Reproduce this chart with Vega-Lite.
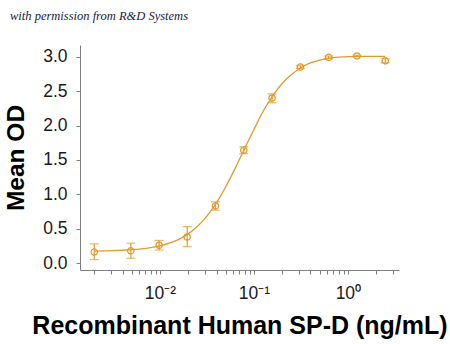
{
  "$schema": "https://vega.github.io/schema/vega-lite/v6.json",
  "autosize": "none",
  "width": 319,
  "height": 225,
  "padding": {"left": 80, "top": 45, "right": 51, "bottom": 74},
  "background": "white",
  "title": {
    "text": "with permission from R&D Systems",
    "anchor": "start",
    "frame": "group",
    "dx": -70,
    "offset": 23,
    "font": "Liberation Serif",
    "fontStyle": "italic",
    "fontWeight": "normal",
    "fontSize": 12.5,
    "color": "#1b1b3a"
  },
  "config": {
    "view": {"stroke": null},
    "axis": {
      "grid": false,
      "domainColor": "#808080",
      "tickColor": "#808080",
      "tickSize": 4,
      "labelColor": "#1a1a1a",
      "labelFont": "Liberation Sans",
      "labelFontSize": 16,
      "labelOverlap": false,
      "titleFont": "Liberation Sans",
      "titleFontWeight": "bold",
      "titleColor": "#000000"
    }
  },
  "datasets": {
    "points": [
      {"conc": 0.002, "od": 0.16, "lo": 0.05, "hi": 0.28},
      {"conc": 0.0049, "od": 0.18, "lo": 0.07, "hi": 0.29},
      {"conc": 0.0098, "od": 0.26, "lo": 0.19, "hi": 0.33},
      {"conc": 0.0195, "od": 0.38, "lo": 0.24, "hi": 0.53},
      {"conc": 0.039, "od": 0.83, "lo": 0.77, "hi": 0.89},
      {"conc": 0.078, "od": 1.64, "lo": 1.59, "hi": 1.69},
      {"conc": 0.156, "od": 2.40, "lo": 2.33, "hi": 2.46},
      {"conc": 0.3125, "od": 2.85, "lo": 2.83, "hi": 2.87},
      {"conc": 0.625, "od": 2.99, "lo": 2.97, "hi": 3.01},
      {"conc": 1.25, "od": 3.01, "lo": 3.0, "hi": 3.02},
      {"conc": 2.5, "od": 2.94, "lo": 2.91, "hi": 2.97}
    ],
    "curve": [
      {"conc": 0.002, "od": 0.175},
      {"conc": 0.00251, "od": 0.177},
      {"conc": 0.00316, "od": 0.181},
      {"conc": 0.00398, "od": 0.187},
      {"conc": 0.00501, "od": 0.195},
      {"conc": 0.00631, "od": 0.207},
      {"conc": 0.00794, "od": 0.225},
      {"conc": 0.01, "od": 0.251},
      {"conc": 0.01259, "od": 0.29},
      {"conc": 0.01585, "od": 0.346},
      {"conc": 0.01995, "od": 0.425},
      {"conc": 0.02512, "od": 0.535},
      {"conc": 0.03162, "od": 0.684},
      {"conc": 0.03981, "od": 0.875},
      {"conc": 0.05012, "od": 1.11},
      {"conc": 0.0631, "od": 1.377},
      {"conc": 0.07943, "od": 1.662},
      {"conc": 0.1, "od": 1.941},
      {"conc": 0.1259, "od": 2.21},
      {"conc": 0.1585, "od": 2.43},
      {"conc": 0.1995, "od": 2.61},
      {"conc": 0.2512, "od": 2.74},
      {"conc": 0.3162, "od": 2.84},
      {"conc": 0.3981, "od": 2.91},
      {"conc": 0.5012, "od": 2.95},
      {"conc": 0.631, "od": 2.98},
      {"conc": 0.7943, "od": 2.995},
      {"conc": 1.0, "od": 3.0},
      {"conc": 1.259, "od": 3.005},
      {"conc": 1.585, "od": 3.005},
      {"conc": 1.995, "od": 3.005},
      {"conc": 2.5, "od": 3.005}
    ]
  },
  "layer": [
    {
      "data": {"name": "curve"},
      "mark": {"type": "line", "color": "#E09A2E", "strokeWidth": 1.3, "interpolate": "monotone"},
      "encoding": {
        "x": {
          "field": "conc", "type": "quantitative",
          "scale": {"type": "log", "domain": [0.00141, 3.5], "nice": false},
          "axis": {
            "title": "Recombinant Human SP-D (ng/mL)",
            "titleFontSize": 25,
            "titlePadding": 12,
            "labelPadding": 10,
            "tickCount": 50,
            "values": [0.002, 0.003, 0.004, 0.005, 0.006, 0.007, 0.008, 0.009, 0.01, 0.02, 0.03, 0.04, 0.05, 0.06, 0.07, 0.08, 0.09, 0.1, 0.2, 0.3, 0.4, 0.5, 0.6, 0.7, 0.8, 0.9, 1, 2, 3],
            "labelExpr": "datum.value == 0.01 ? '10⁻²' : datum.value == 0.1 ? '10⁻¹' : datum.value == 1 ? '10⁰' : ''",
            "labelFontSize": 17.5
          }
        },
        "y": {
          "field": "od", "type": "quantitative",
          "scale": {"domain": [-0.1, 3.17], "nice": false, "zero": false},
          "axis": {
            "title": "Mean OD",
            "titleFontSize": 24.5,
            "titlePadding": 14,
            "labelPadding": 9,
            "labelFontSize": 17.5,
            "tickCount": 10,
            "labelOverlap": false,
            "values": [0, 0.5, 1, 1.5, 2, 2.5, 3],
            "format": ".1f"
          }
        }
      }
    },
    {
      "data": {"name": "points"},
      "mark": {"type": "rule", "color": "#E09A2E", "strokeWidth": 1.2},
      "encoding": {
        "x": {"field": "conc", "type": "quantitative"},
        "y": {"field": "lo", "type": "quantitative"},
        "y2": {"field": "hi"}
      }
    },
    {
      "data": {"name": "points"},
      "mark": {"type": "tick", "color": "#E09A2E", "orient": "horizontal", "size": 9, "thickness": 1.2},
      "encoding": {
        "x": {"field": "conc", "type": "quantitative"},
        "y": {"field": "lo", "type": "quantitative"}
      }
    },
    {
      "data": {"name": "points"},
      "mark": {"type": "tick", "color": "#E09A2E", "orient": "horizontal", "size": 9, "thickness": 1.2},
      "encoding": {
        "x": {"field": "conc", "type": "quantitative"},
        "y": {"field": "hi", "type": "quantitative"}
      }
    },
    {
      "data": {"name": "points"},
      "mark": {"type": "point", "shape": "circle", "filled": false, "color": "#E09A2E", "size": 40, "strokeWidth": 1.3, "opacity": 1},
      "encoding": {
        "x": {"field": "conc", "type": "quantitative"},
        "y": {"field": "od", "type": "quantitative"}
      }
    }
  ]
}
